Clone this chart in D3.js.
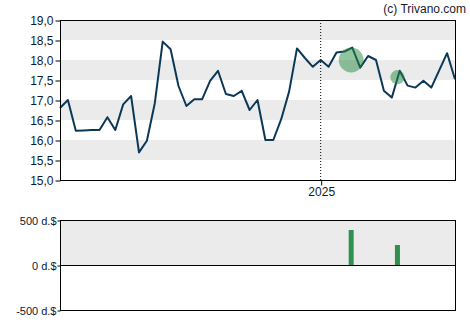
<!DOCTYPE html>
<html>
<head>
<meta charset="utf-8">
<script src="https://d3js.org/d3.v7.min.js"></script>
<style>
  body { margin: 0; background: #fff; }
  text { font-family: "Liberation Sans", Arial, sans-serif; }
</style>
</head>
<body>
<div id="chart"></div>
<script>
// weekly closing prices, first week 2024-05-15
var start_date = new Date(2024, 4, 15);
var prices = [16.8, 17.0, 16.23, 16.24, 16.25, 16.25, 16.57, 16.25, 16.89, 17.1,
    15.69, 15.98, 16.92, 18.46, 18.27, 17.35, 16.85, 17.02, 17.02, 17.48,
    17.73, 17.15, 17.1, 17.23, 16.75, 17.0, 16.0, 16.0, 16.52, 17.21,
    18.29, 18.05, 17.83, 18.0, 17.83, 18.19, 18.21, 18.31, 17.81, 18.1,
    18.0, 17.23, 17.06, 17.73, 17.36, 17.31, 17.48, 17.31, 17.74, 18.17, 17.52];
var dates = prices.map(function(d, i) { return d3.timeDay.offset(start_date, i * 7); });

// insider buys (thousand $)
var trade_dates = [new Date(2025, 0, 28), new Date(2025, 2, 10)];
var trade_values = [389, 222];
var trade_prices = [18.0, 17.57];

var y_ticks = [15, 15.5, 16, 16.5, 17, 17.5, 18, 18.5, 19];
var vol_ticks = [500, 0, -500];
var year_ticks = [new Date(2025, 0, 1)];

var width = 470, height = 325;
var left = 60, right = 455;
var main_top = 20, main_bottom = 180;
var vol_top = 220, vol_bottom = 310;

var svg = d3.select("#chart").append("svg")
    .attr("width", width)
    .attr("height", height);

var x = d3.scaleTime()
    .domain([dates[0], dates[dates.length - 1]])
    .range([left, right]);
var y = d3.scaleLinear()
    .domain([15, 19])
    .range([main_bottom, main_top]);
var y_vol = d3.scaleLinear()
    .domain([-500, 500])
    .range([vol_bottom, vol_top]);
var r = d3.scaleLinear()
    .domain([0, 389])
    .range([0, 12.4]);

var fmt = function(v) { return d3.format(".1f")(v).replace(".", ","); };

// stripes
var bands = [[18.5, 19], [17.5, 18], [16.5, 17], [15.5, 16]];
svg.selectAll("rect.band")
    .data(bands)
    .enter().append("rect")
    .attr("class", "band")
    .attr("x", left)
    .attr("width", right - left)
    .attr("y", function(d) { return y(d[1]); })
    .attr("height", function(d) { return y(d[0]) - y(d[1]); })
    .attr("fill", "#ebebeb");

// year line
svg.selectAll("line.year")
    .data(year_ticks)
    .enter().append("line")
    .attr("class", "year")
    .attr("x1", function(d) { return x(d); })
    .attr("x2", function(d) { return x(d); })
    .attr("y1", main_top)
    .attr("y2", main_bottom)
    .attr("stroke", "#000")
    .attr("stroke-width", 1)
    .attr("stroke-dasharray", "1,2");

// price line
var line = d3.line()
    .x(function(d, i) { return x(dates[i]); })
    .y(function(d) { return y(d); });
svg.append("path")
    .datum(prices)
    .attr("fill", "none")
    .attr("stroke", "#0c3858")
    .attr("stroke-width", 2)
    .attr("stroke-linejoin", "round")
    .attr("d", line);

// trade circles
svg.selectAll("circle.trade")
    .data(trade_values)
    .enter().append("circle")
    .attr("class", "trade")
    .attr("cx", function(d, i) { return x(trade_dates[i]); })
    .attr("cy", function(d, i) { return y(trade_prices[i]); })
    .attr("r", function(d) { return r(d); })
    .attr("fill", "#26893f")
    .attr("fill-opacity", 0.5);

// frame + axes for main
svg.append("rect")
    .attr("x", left + 0.5).attr("y", main_top + 0.5)
    .attr("width", right - left).attr("height", main_bottom - main_top)
    .attr("fill", "none").attr("stroke", "#000");

var y_axis = svg.append("g")
    .attr("transform", "translate(" + (left + 0.5) + ",0.5)")
    .call(d3.axisLeft(y).tickValues(y_ticks).tickFormat(fmt).tickSize(5).tickSizeOuter(0));
y_axis.select(".domain").remove();
y_axis.selectAll("text").attr("font-size", 12).attr("fill", "#0b1a33").attr("dx", 1);

var x_axis = svg.append("g")
    .attr("transform", "translate(0.5," + (main_bottom + 0.5) + ")")
    .call(d3.axisBottom(x).tickValues(year_ticks).tickFormat(d3.timeFormat("%Y")).tickSize(5).tickSizeOuter(0));
x_axis.select(".domain").remove();
x_axis.selectAll("text").attr("font-size", 12).attr("fill", "#0b1a33").attr("dy", "0.6em");

svg.append("text")
    .attr("x", 466).attr("y", 13)
    .attr("text-anchor", "end")
    .attr("font-size", 12)
    .attr("fill", "#1a1a2e")
    .text("(c) Trivano.com");

// volume panel
svg.append("rect")
    .attr("x", left).attr("y", y_vol(500))
    .attr("width", right - left).attr("height", y_vol(0) - y_vol(500))
    .attr("fill", "#ebebeb");

svg.selectAll("rect.bar")
    .data(trade_values)
    .enter().append("rect")
    .attr("class", "bar")
    .attr("x", function(d, i) { return x(trade_dates[i]) - 2.5; })
    .attr("width", 5)
    .attr("y", function(d) { return y_vol(d); })
    .attr("height", function(d) { return y_vol(0) - y_vol(d); })
    .attr("fill", "#2e9150");

svg.append("rect")
    .attr("x", left + 0.5).attr("y", vol_top + 0.5)
    .attr("width", right - left).attr("height", vol_bottom - vol_top)
    .attr("fill", "none").attr("stroke", "#000");
svg.append("line")
    .attr("x1", left).attr("x2", right + 1)
    .attr("y1", y_vol(0) + 0.5).attr("y2", y_vol(0) + 0.5)
    .attr("stroke", "#000");

var vol_axis = svg.append("g")
    .attr("transform", "translate(" + (left + 0.5) + ",0.5)")
    .call(d3.axisLeft(y_vol).tickValues(vol_ticks).tickFormat(function(d) { return d + " d.$"; }).tickSize(3).tickSizeOuter(0));
vol_axis.select(".domain").remove();
vol_axis.selectAll("text").attr("font-size", 11).attr("fill", "#0b1a33").attr("dx", 2);
</script>
</body>
</html>
